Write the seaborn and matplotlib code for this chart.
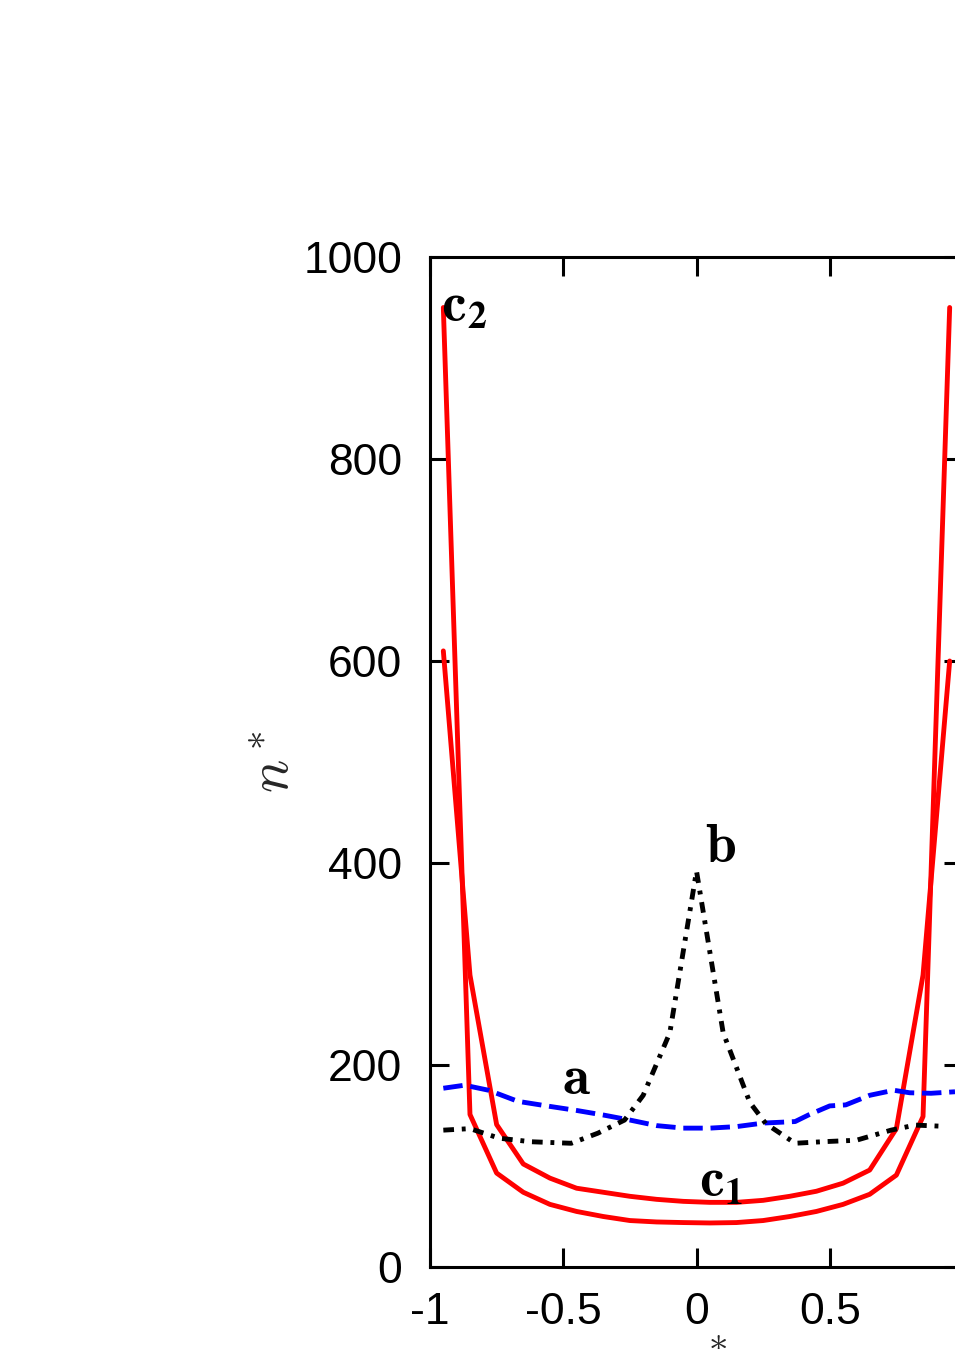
import numpy as np
import pandas as pd
import matplotlib
matplotlib.use("Agg")
import matplotlib.pyplot as plt
import seaborn as sns

# ---- data ----
x_red = [-0.95, -0.85, -0.75, -0.65, -0.55, -0.45, -0.35, -0.25, -0.15, -0.05,
         0.05, 0.15, 0.25, 0.35, 0.45, 0.55, 0.65, 0.75, 0.85, 0.95]
c2_vals = [950, 151, 93, 74, 62, 55, 50, 46, 44.6, 44,
           43.6, 44, 46, 50, 55, 62, 72, 91, 149, 950]
c1_vals = [610, 289, 141, 102, 88, 78, 74, 70, 67, 65,
           64, 64, 66, 70, 75, 83, 96, 137, 289, 600]

x_a = [-0.95, -0.87, -0.78, -0.67, -0.55, -0.45, -0.35, -0.25, -0.15, -0.05,
       0.05, 0.15, 0.25, 0.37, 0.42, 0.5, 0.56, 0.65, 0.74, 0.8, 0.88, 0.97]
a_vals = [177, 180, 175, 164, 159, 155, 150.5, 145.5, 140, 137.5,
          137.5, 139, 142.5, 144, 150.5, 159.5, 160.5, 170, 175, 172.5, 172, 173.5]

x_b = [-0.95, -0.85, -0.74, -0.62, -0.47, -0.37, -0.27, -0.2, -0.1, 0.0,
       0.1, 0.2, 0.26, 0.37, 0.47, 0.6, 0.73, 0.82, 0.91]
b_vals = [135.5, 137, 127.5, 124, 122.5, 132.5, 145.5, 170, 232, 392,
          232, 163, 142, 122.5, 124, 125.5, 135.5, 140.5, 139.5]

y_ticks = [0, 200, 400, 600, 800, 1000]
x_ticks = [-1, -0.5, 0, 0.5, 1]
x_tick_labels = ["-1", "-0.5", "0", "0.5", ""]

sns.set_theme(style="ticks")
plt.rcParams["font.family"] = ["Liberation Sans", "DejaVu Sans"]
plt.rcParams["mathtext.fontset"] = "cm"

W, H = 955, 1349
fig = plt.figure(figsize=(W / 100, H / 100), dpi=100)
ax = fig.add_axes([430 / W, 1 - 1267 / H, 533 / W, 1010 / H])

df_red = pd.DataFrame({"x": x_red, "c1": c1_vals, "c2": c2_vals})
df_a = pd.DataFrame({"x": x_a, "y": a_vals})
df_b = pd.DataFrame({"x": x_b, "y": b_vals})

lw = 3.5
sns.lineplot(data=df_red, x="x", y="c2", ax=ax, color="#ff0000", lw=lw,
             sort=False, estimator=None)
sns.lineplot(data=df_red, x="x", y="c1", ax=ax, color="#ff0000", lw=lw,
             sort=False, estimator=None)
sns.lineplot(data=df_a, x="x", y="y", ax=ax, color="#0000ff", lw=lw,
             sort=False, estimator=None, linestyle=(0, (4, 1.6)))
sns.lineplot(data=df_b, x="x", y="y", ax=ax, color="black", lw=lw,
             sort=False, estimator=None, linestyle=(0, (2.2, 1.6, 0.8, 1.6)))

ax.set_xlim(-1, 1)
ax.set_ylim(0, 1000)
ax.set_xticks(x_ticks)
ax.set_xticklabels(x_tick_labels)
ax.set_yticks(y_ticks)
ax.tick_params(direction="in", length=14, width=2.2, top=True, right=True,
               labelsize=32, pad=20, colors="black")
ax.tick_params(axis="x", pad=18)
for s in ax.spines.values():
    s.set_linewidth(2.2)
    s.set_color("black")

ax.set_ylabel(r"$n^*$", fontsize=40, labelpad=2)
ax.set_xlabel(r"$x^*$", fontsize=40, labelpad=1.5)

lab = dict(fontsize=40, color="black")
ax.text(-0.45, 185, r"$\mathbf{a}$", ha="center", va="center", **lab)
ax.text(0.09, 415, r"$\mathbf{b}$", ha="center", va="center", **lab)

sub = dict(fontsize=27, color="black", math_fontfamily="stix")
ax.text(0.008, 70.5, r"$\mathbf{c}$", ha="left", va="baseline", **lab)
ax.text(0.105, 62.5, r"$\mathbf{1}$", ha="left", va="baseline", **sub)
ax.text(-0.957, 937, r"$\mathbf{c}$", ha="left", va="baseline", **lab)
ax.text(-0.86, 930, r"$\mathbf{2}$", ha="left", va="baseline", **sub)

fig.savefig("out.png", dpi=100)
